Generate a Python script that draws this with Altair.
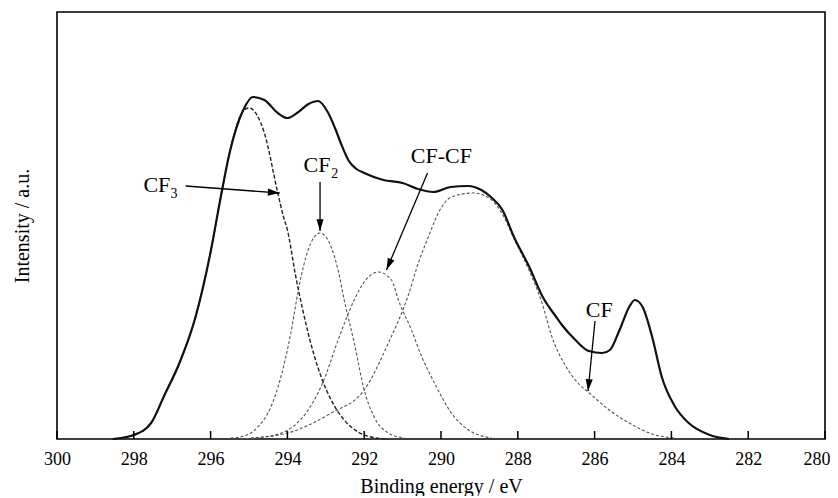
import math
import altair as alt
import pandas as pd

# ---------------- data ----------------
tick_values = [300, 298, 296, 294, 292, 290, 288, 286, 284, 282, 280]

# measured envelope (solid line)
env_e = [298.55, 298.0, 297.55, 297.2, 296.8, 296.4, 296.0, 295.75, 295.5, 295.15,
         294.9, 294.6, 294.25, 294.0, 293.75, 293.45, 293.2, 292.95, 292.75, 292.6,
         292.4, 292.2, 292.0, 291.5, 291.0, 290.6, 290.2, 289.75, 289.3, 288.95,
         288.7, 288.4, 288.1, 287.7, 287.35, 287.0, 286.85, 286.5, 286.15, 285.8,
         285.6, 285.35, 285.1, 284.95, 284.75, 284.5, 284.25, 283.9, 283.55, 283.0,
         282.5]
env_i = [0, 4, 16, 44, 77, 121, 187, 239, 287, 329,
         342, 339, 326, 321, 326, 335, 338, 327, 310, 295,
         278, 270, 266, 259, 256, 250, 247, 252, 253, 249,
         242, 229, 202, 172, 142, 122, 114, 99, 88, 86,
         89, 109, 132, 139, 132, 102, 62, 32, 16, 4,
         0]

# fitted components (dashed)
cf3_e = [298.55, 298.0, 297.55, 297.2, 296.8, 296.4, 296.0, 295.75, 295.5, 295.15,
         295.0, 294.6, 294.25, 294.1, 294.0, 293.78, 293.6, 293.46, 293.12, 292.86,
         292.52, 292.16, 291.82, 291.37]
cf3_i = [0, 4, 16, 44, 77, 121, 187, 239, 287, 328,
         331, 306, 246, 222, 209, 162, 129, 106, 62, 39,
         19, 7, 2, 0]

cf2_e = [295.48, 295.22, 294.77, 294.43, 294.17, 293.91, 293.7, 293.46, 293.15,
         292.86, 292.68, 292.52, 292.26, 292.0, 291.74, 291.37, 290.95]
cf2_i = [1, 2, 12, 32, 62, 106, 152, 189, 206, 192, 169, 139, 96, 49, 22, 6, 1]

cfcf_e = [295.22, 294.61, 293.99, 293.46, 293.05, 292.68, 292.26, 292.0, 291.63,
          291.29, 291.11, 290.77, 290.51, 290.17, 289.73, 289.28, 288.68]
cfcf_i = [0, 2, 9, 29, 59, 99, 139, 157, 167, 159, 139, 109, 83, 56, 26, 9, 1]

cf_e = [294.95, 293.99, 292.86, 292.0, 291.37, 290.85, 290.59, 290.33, 290.07, 289.73,
        289.15, 288.68, 288.42, 288.08, 287.71, 287.37, 287.11, 286.77, 286.41, 286.14,
        285.62, 285.1, 284.42, 283.9]
cf_i = [1, 6, 26, 49, 96, 144, 176, 202, 226, 242,
        246, 239, 226, 199, 169, 136, 102, 74, 55, 46,
        29, 16, 4, 1]

# annotations
label_text = ["CF", "CF", "CF-CF", "CF"]
label_e = [297.40, 293.23, 289.99, 285.88]
label_i = [247, 267, 276, 122]
sub_text = ["3", "2"]
sub_e = [296.95, 292.77]
sub_i = [241, 261]
arrow_e1 = [296.65, 293.15, 290.35, 285.99]
arrow_i1 = [253, 257, 266, 118]
arrow_e2 = [294.20, 293.15, 291.42, 286.17]
arrow_i2 = [246, 208, 169, 48]

# ---------------- chart ----------------
W, H = 768, 427
FONT = "Liberation Serif"
px_per_e = W / 20.0
px_per_i = H / 427.0

xscale = alt.Scale(domain=[280, 300], reverse=True, nice=False, zero=False)
yscale = alt.Scale(domain=[0, 427], nice=False, zero=False)

x_axis = alt.Axis(values=tick_values, format="d", labelFont=FONT, labelFontSize=18,
                  labelColor="black", labelPadding=11, labelFlush=False,
                  labelAlign=alt.ExprRef(expr="datum.value == 280 ? 'right' : 'center'"),
                  labelOffset=alt.ExprRef(expr="datum.value == 280 ? 5 : 0"),
                  ticks=False, tickSize=0, domain=False, grid=False,
                  title="Binding energy / eV", titleFont=FONT, titleFontSize=20,
                  titleFontWeight="normal", titleColor="black",
                  titleX=W / 2, titleY=53, titleBaseline="alphabetic",
                  titleAlign="center")
y_axis = alt.Axis(labels=False, ticks=False, tickSize=0, domain=False, grid=False,
                  title="Intensity / a.u.", titleFont=FONT, titleFontSize=20,
                  titleFontWeight="normal", titleColor="black",
                  titleX=-35, titleY=H / 2, titleAngle=270,
                  titleAlign="center", titleBaseline="middle")


def X(field="e"):
    return alt.X(f"{field}:Q", scale=xscale, axis=x_axis)


def Y(field="i"):
    return alt.Y(f"{field}:Q", scale=yscale, axis=y_axis)


comp = pd.concat([
    pd.DataFrame({"e": cf2_e, "i": cf2_i, "curve": "CF2"}),
    pd.DataFrame({"e": cfcf_e, "i": cfcf_i, "curve": "CF-CF"}),
    pd.DataFrame({"e": cf_e, "i": cf_i, "curve": "CF"}),
], ignore_index=True)
cf3 = pd.DataFrame({"e": cf3_e, "i": cf3_i})
env = pd.DataFrame({"e": env_e, "i": env_i})

light = alt.Chart(comp).mark_line(
    color="#555555", strokeWidth=1.1, strokeDash=[3, 2], interpolate="monotone"
).encode(x=X(), y=Y(), detail="curve:N")

dark = alt.Chart(cf3).mark_line(
    color="#222222", strokeWidth=1.4, strokeDash=[4, 2], interpolate="monotone"
).encode(x=X(), y=Y())

envelope = alt.Chart(env).mark_line(
    color="#111111", strokeWidth=2.2, interpolate="monotone"
).encode(x=X(), y=Y())

ticks_df = pd.DataFrame({"e": tick_values})
tick_marks = alt.Chart(ticks_df).mark_rule(color="black", strokeWidth=1.5).encode(
    x=X(), y=alt.value(H), y2=alt.value(H - 8))

arr = pd.DataFrame({"e": arrow_e1, "i": arrow_i1, "e2": arrow_e2, "i2": arrow_i2})
angles = []
for a, b, c, d in zip(arrow_e1, arrow_i1, arrow_e2, arrow_i2):
    dx = -(c - a) * px_per_e
    dy = -(d - b) * px_per_i
    angles.append(math.degrees(math.atan2(dx, -dy)) % 360)
arr["angle"] = angles

arrow_lines = alt.Chart(arr).mark_rule(color="black", strokeWidth=1.3).encode(
    x=X(), y=Y(), x2="e2:Q", y2="i2:Q")
arrow_heads = alt.Chart(arr).mark_point(
    shape="M0,0L-0.3,1L0.3,1Z", filled=True, color="black", opacity=1,
    size=560, strokeWidth=0
).encode(x=X("e2"), y=Y("i2"), angle=alt.Angle("angle:Q", scale=None))

labels = alt.Chart(pd.DataFrame({"e": label_e, "i": label_i, "t": label_text})).mark_text(
    font=FONT, fontSize=22, color="black", align="center", baseline="alphabetic"
).encode(x=X(), y=Y(), text="t:N")
subs = alt.Chart(pd.DataFrame({"e": sub_e, "i": sub_i, "t": sub_text})).mark_text(
    font=FONT, fontSize=14, color="black", align="center", baseline="alphabetic"
).encode(x=X(), y=Y(), text="t:N")

chart = alt.layer(
    light, dark, envelope, tick_marks, arrow_lines, arrow_heads, labels, subs
).properties(
    width=W, height=H,
    autosize=alt.AutoSizeParams(type="none"),
    padding={"left": 49, "top": 4, "right": 5, "bottom": 57},
).configure(
    font=FONT, background="white"
).configure_view(
    stroke="black", strokeWidth=1.6
)

chart.save("out.html", embed_options={"renderer": "svg", "actions": False})
